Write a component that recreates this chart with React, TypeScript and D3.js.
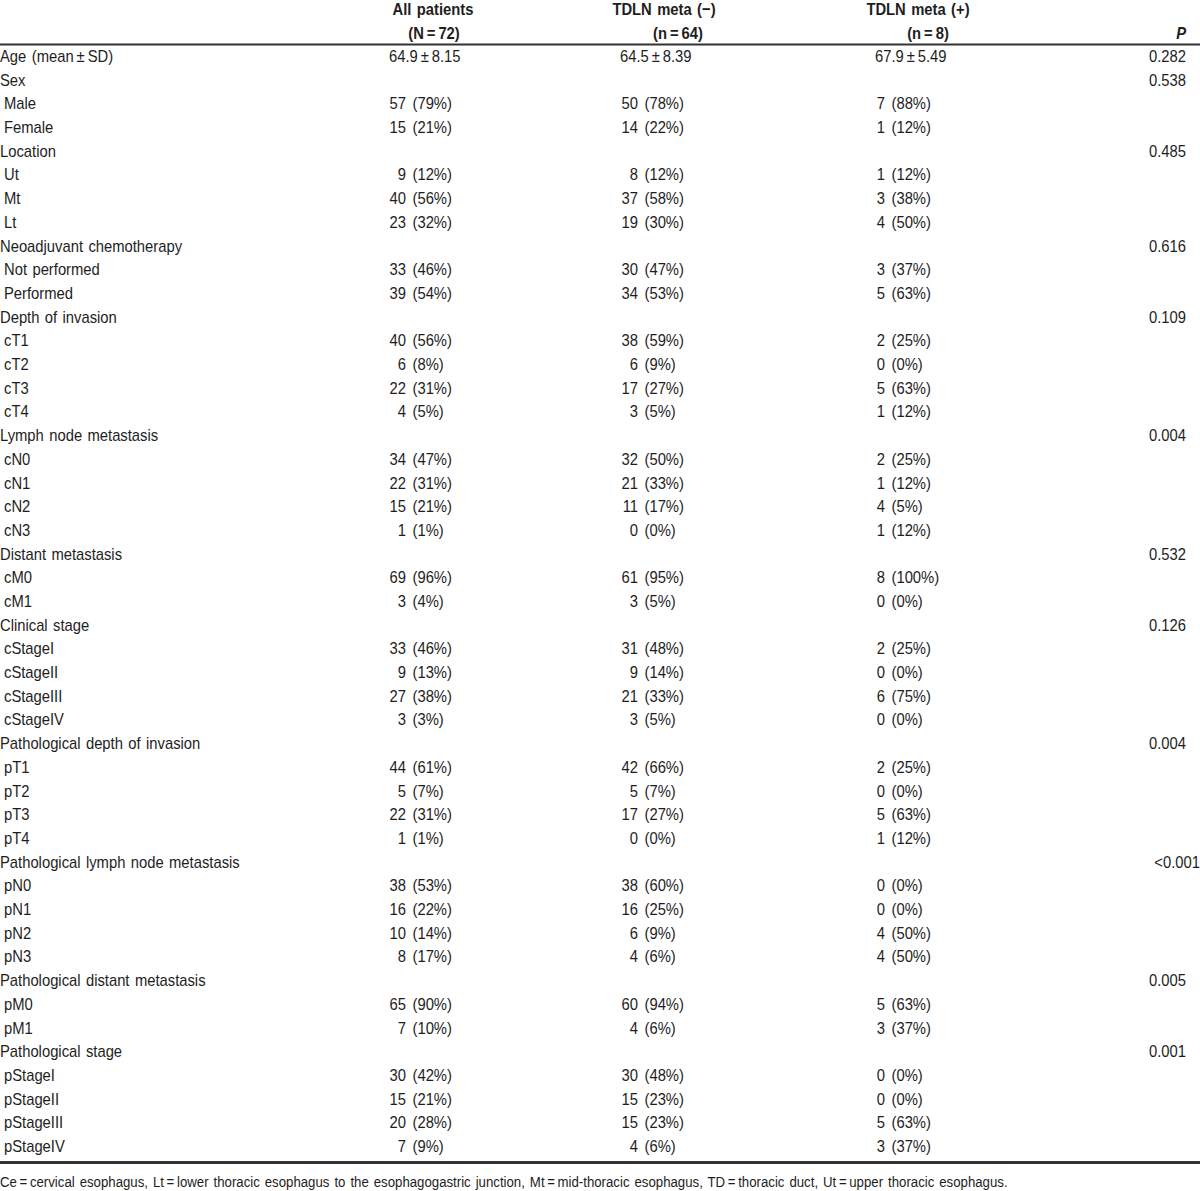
import React from "react";
import * as d3 from "d3";

const headerLine1 = ["All patients", "TDLN meta (\u2212)", "TDLN meta (+)", ""];
const headerLine2 = ["(N\u2009=\u200972)", "(n\u2009=\u200964)", "(n\u2009=\u20098)", "P"];

const rowLabels = [
  "Age (mean\u2009\u00b1\u2009SD)", "Sex", " Male", " Female", "Location", " Ut", " Mt", " Lt",
  "Neoadjuvant chemotherapy", " Not performed", " Performed",
  "Depth of invasion", " cT1", " cT2", " cT3", " cT4",
  "Lymph node metastasis", " cN0", " cN1", " cN2", " cN3",
  "Distant metastasis", " cM0", " cM1",
  "Clinical stage", " cStageI", " cStageII", " cStageIII", " cStageIV",
  "Pathological depth of invasion", " pT1", " pT2", " pT3", " pT4",
  "Pathological lymph node metastasis", " pN0", " pN1", " pN2", " pN3",
  "Pathological distant metastasis", " pM0", " pM1",
  "Pathological stage", " pStageI", " pStageII", " pStageIII", " pStageIV",
];

const allPatients = [
  "64.9\u2009\u00b1\u20098.15", "", "57 (79%)", "15 (21%)", "", "9 (12%)", "40 (56%)", "23 (32%)",
  "", "33 (46%)", "39 (54%)",
  "", "40 (56%)", "6 (8%)", "22 (31%)", "4 (5%)",
  "", "34 (47%)", "22 (31%)", "15 (21%)", "1 (1%)",
  "", "69 (96%)", "3 (4%)",
  "", "33 (46%)", "9 (13%)", "27 (38%)", "3 (3%)",
  "", "44 (61%)", "5 (7%)", "22 (31%)", "1 (1%)",
  "", "38 (53%)", "16 (22%)", "10 (14%)", "8 (17%)",
  "", "65 (90%)", "7 (10%)",
  "", "30 (42%)", "15 (21%)", "20 (28%)", "7 (9%)",
];

const tdlnNeg = [
  "64.5\u2009\u00b1\u20098.39", "", "50 (78%)", "14 (22%)", "", "8 (12%)", "37 (58%)", "19 (30%)",
  "", "30 (47%)", "34 (53%)",
  "", "38 (59%)", "6 (9%)", "17 (27%)", "3 (5%)",
  "", "32 (50%)", "21 (33%)", "11 (17%)", "0 (0%)",
  "", "61 (95%)", "3 (5%)",
  "", "31 (48%)", "9 (14%)", "21 (33%)", "3 (5%)",
  "", "42 (66%)", "5 (7%)", "17 (27%)", "0 (0%)",
  "", "38 (60%)", "16 (25%)", "6 (9%)", "4 (6%)",
  "", "60 (94%)", "4 (6%)",
  "", "30 (48%)", "15 (23%)", "15 (23%)", "4 (6%)",
];

const tdlnPos = [
  "67.9\u2009\u00b1\u20095.49", "", "7 (88%)", "1 (12%)", "", "1 (12%)", "3 (38%)", "4 (50%)",
  "", "3 (37%)", "5 (63%)",
  "", "2 (25%)", "0 (0%)", "5 (63%)", "1 (12%)",
  "", "2 (25%)", "1 (12%)", "4 (5%)", "1 (12%)",
  "", "8 (100%)", "0 (0%)",
  "", "2 (25%)", "0 (0%)", "6 (75%)", "0 (0%)",
  "", "2 (25%)", "0 (0%)", "5 (63%)", "1 (12%)",
  "", "0 (0%)", "0 (0%)", "4 (50%)", "4 (50%)",
  "", "5 (63%)", "3 (37%)",
  "", "0 (0%)", "0 (0%)", "5 (63%)", "3 (37%)",
];

const pValues = [
  "0.282", "0.538", "", "", "0.485", "", "", "",
  "0.616", "", "",
  "0.109", "", "", "", "",
  "0.004", "", "", "", "",
  "0.532", "", "",
  "0.126", "", "", "", "",
  "0.004", "", "", "", "",
  "<0.001", "", "", "", "",
  "0.005", "", "",
  "0.001", "", "", "", "",
];

const footnote =
  "Ce\u2009=\u2009cervical esophagus, Lt\u2009=\u2009lower thoracic esophagus to the esophagogastric junction, Mt\u2009=\u2009mid-thoracic esophagus, TD\u2009=\u2009thoracic duct, Ut\u2009=\u2009upper thoracic esophagus.";

const W = 1200;
const H = 1191;
const FONT = "'Liberation Sans', Arial, sans-serif";
const COLOR = "#1e1e1e";
const FS = 17;
const SX = 0.87;

// column layout: numeric part right edge, text start
const colStart = [389, 620, 875];
const colCountEnd = [406, 638, 885];
const countGap = 6.5;
const header1X = [433, 664, 918];
const header2X = [434, 678, 928];
const pRight = 1186;

type TProps = {
  x: number;
  y: number;
  anchor?: "start" | "middle" | "end";
  weight?: string;
  italic?: boolean;
  size?: number;
  ws?: number;
  children: React.ReactNode;
};

function T({ x, y, anchor = "start", weight, italic, size, ws, children }: TProps) {
  return (
    <text
      transform={`translate(${x},${y}) scale(${SX},1)`}
      textAnchor={anchor}
      fontWeight={weight}
      fontStyle={italic ? "italic" : undefined}
      fontSize={size}
      style={ws ? { wordSpacing: `${ws}px` } : undefined}
    >
      {children}
    </text>
  );
}

export default function App() {
  const y = d3
    .scalePoint<number>()
    .domain(d3.range(rowLabels.length))
    .range([56, 1146]);

  const cols = [allPatients, tdlnNeg, tdlnPos];

  const cell = (v: string, ci: number, key: string, yy: number) => {
    if (!v) return null;
    if (v.includes("\u00b1")) {
      return (
        <T key={key} x={colStart[ci]} y={yy}>
          {v}
        </T>
      );
    }
    const sp = v.indexOf(" ");
    const n = v.slice(0, sp);
    const rest = v.slice(sp + 1);
    return (
      <g key={key}>
        <T x={colCountEnd[ci]} y={yy} anchor="end">
          {n}
        </T>
        <T x={colCountEnd[ci] + countGap} y={yy}>
          {rest}
        </T>
      </g>
    );
  };

  return (
    <div style={{ position: "absolute", left: 0, top: 0, background: "#fff" }}>
      <svg width={W} height={H} style={{ display: "block" }}>
        <rect width={W} height={H} fill="#fff" />
        <g fontFamily={FONT} fontSize={FS} fill={COLOR}>
          {headerLine1.map((t, i) =>
            t ? (
              <T key={"h1" + i} x={header1X[i]} y={15} anchor="middle" weight="bold" ws={1.5}>
                {t}
              </T>
            ) : null
          )}
          {headerLine2.map((t, i) =>
            i < 3 ? (
              <T key={"h2" + i} x={header2X[i]} y={38.5} anchor="middle" weight="bold">
                {t}
              </T>
            ) : (
              <T key={"h2" + i} x={pRight} y={38.5} anchor="end" weight="bold" italic>
                {t}
              </T>
            )
          )}
          <line x1={0} x2={W} y1={44.5} y2={44.5} stroke="#333" strokeWidth={2} />
          {rowLabels.map((lab, i) => {
            const yy = (y(i) as number) + 6;
            const indent = lab.startsWith(" ");
            return (
              <g key={"r" + i}>
                <T x={indent ? 4 : 0} y={yy} ws={1.5}>
                  {lab.trim()}
                </T>
                {cols.map((c, ci) => cell(c[i], ci, `c${i}-${ci}`, yy))}
                {pValues[i] ? (
                  <T x={pValues[i].startsWith("<") ? W : pRight} y={yy} anchor="end">
                    {pValues[i]}
                  </T>
                ) : null}
              </g>
            );
          })}
          <line x1={0} x2={W} y1={1162.5} y2={1162.5} stroke="#333" strokeWidth={3} />
          <T x={0} y={1187} size={15.2} ws={1.5}>
            {footnote}
          </T>
        </g>
      </svg>
    </div>
  );
}
